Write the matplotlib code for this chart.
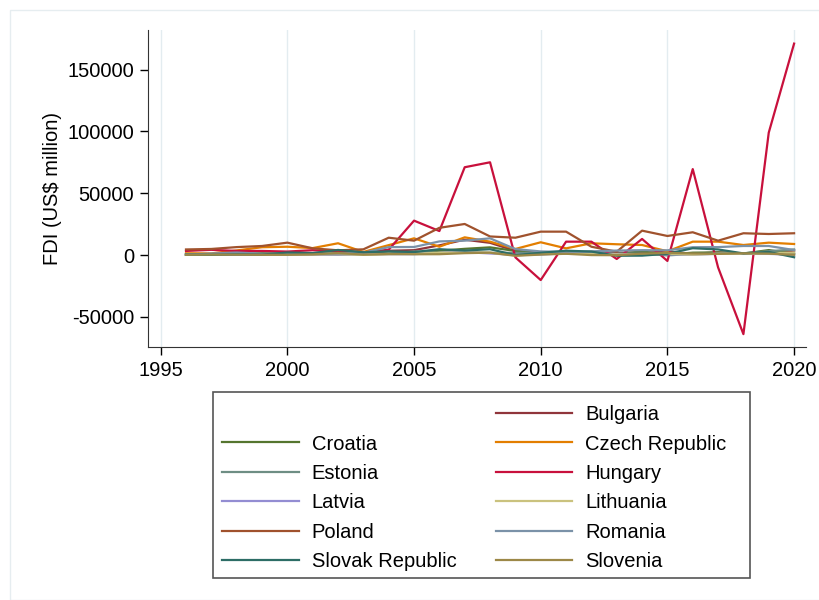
import matplotlib
matplotlib.use('Agg')
import matplotlib.pyplot as plt
from matplotlib.lines import Line2D
from matplotlib.patches import Rectangle


# years covered by the series
years = list(range(1996, 2021))

# FDI net inflows, US$ million
bulgaria = [109, 505, 537, 819, 1002, 813, 905, 2097, 3443, 3920, 7805, 12389, 9855,
            3385, 1525, 1827, 1467, 1888, 1777, 2747, 1070, 2124, 1350, 1940, 3500]
croatia = [500, 530, 930, 1460, 1090, 1340, 1100, 2100, 1200, 1800, 3470, 5000, 6200,
           3300, 1150, 1200, 1500, 950, 2900, 230, 1900, 2100, 1200, 4000, 1000]
czech = [1400, 1300, 3700, 6300, 6700, 5600, 9500, 2500, 8000, 13500, 6700, 14300, 10800,
         4900, 10300, 5400, 9500, 8700, 8100, 3000, 10800, 10800, 8100, 10000, 8900]
estonia = [150, 270, 580, 310, 390, 540, 280, 920, 1000, 2900, 1800, 2700, 1700,
           1800, 1700, 1000, 1500, 950, 1000, -300, 900, 1100, 1400, 3100, 4500]
hungary = [3300, 4200, 3300, 3300, 2800, 3900, 3000, 2100, 4300, 27800, 19400, 71000, 75000,
           -1900, -20250, 10800, 10800, -3200, 13000, -4800, 69500, -10000, -64000, 99000, 171000]
latvia = [380, 520, 360, 350, 410, 160, 390, 330, 640, 710, 1660, 2320, 1260,
          94, 380, 1460, 1100, 900, 800, 700, 230, 1000, 900, 900, 300]
lithuania = [150, 350, 920, 490, 380, 450, 710, 160, 620, 1000, 1800, 2000, 1900,
             -300, 800, 1450, 700, 500, 100, 1000, 300, 1000, 1100, 1400, 2000]
poland = [4500, 4900, 6400, 7300, 10000, 5400, 3800, 4600, 14000, 11600, 22000, 25100, 15000,
          14000, 18900, 18900, 6700, 2700, 19700, 15400, 18400, 11600, 17600, 17000, 17600]
romania = [260, 1200, 2030, 1040, 1040, 1160, 1140, 1840, 6400, 6500, 11000, 11600, 13500,
           4800, 2900, 2500, 3000, 3600, 3900, 3800, 6300, 6400, 7300, 7300, 4000]
slovakia = [350, 170, 560, 350, 2050, 1600, 4100, 2200, 3000, 2400, 4700, 3600, 4700,
            -50, 1800, 3500, 2800, -600, -500, 1000, 5500, 4500, 1300, 2500, -1800]
slovenia = [190, 340, 250, 180, 140, 500, 1600, 300, 830, 600, 650, 1500, 1900,
            -650, 360, 1000, -60, -150, 1050, 1700, 1250, 900, 1400, 1100, 200]

countries = ['Bulgaria', 'Croatia', 'Czech Republic', 'Estonia', 'Hungary', 'Latvia',
             'Lithuania', 'Poland', 'Romania', 'Slovak Republic', 'Slovenia']
series = [bulgaria, croatia, czech, estonia, hungary, latvia,
          lithuania, poland, romania, slovakia, slovenia]

# stata s2color style colours, one per country
colors = ['#90353B', '#55752F', '#E37E00', '#6E8E84', '#C8103C', '#938DD2',
          '#CAC27E', '#A0522D', '#7B92A8', '#2D6D66', '#9C8847']

x_ticks = [1995, 2000, 2005, 2010, 2015, 2020]
y_ticks = [-50000, 0, 50000, 100000, 150000]

W, H = 819, 600


def graph():
    plt.rcParams['font.family'] = ['Liberation Sans', 'DejaVu Sans']
    fs = 14.5
    fig = plt.figure(figsize=(W / 100, H / 100), dpi=100)
    ax = fig.add_axes([148 / W, 1 - 347 / H, (806 - 148) / W, (347 - 30) / H])

    # light outer frame like the stata graph region
    fig.patches.append(Rectangle((10 / W, 0), 1, 1 - 10 / H, transform=fig.transFigure,
                                 fill=False, edgecolor='#E6EDF0', linewidth=1))

    lines = {}
    for name, vals, col in zip(countries, series, colors):
        lines[name], = ax.plot(years, vals, color=col, linewidth=1.6, label=name)

    ax.set_xlim(1994.5, 2020.47)
    ax.set_ylim(-74400, 182000)
    ax.set_xticks(x_ticks)
    ax.set_yticks(y_ticks)
    ax.set_yticklabels([str(v) for v in y_ticks])
    ax.tick_params(labelsize=fs, length=6, width=1, direction='out', pad=4)
    ax.xaxis.grid(True, color='#E3ECF0', linewidth=1)
    ax.set_axisbelow(True)
    for side in ['top', 'right']:
        ax.spines[side].set_visible(False)
    ax.spines['left'].set_color('#333333')
    ax.spines['bottom'].set_color('#333333')
    ax.set_ylabel('FDI (US$ million)', fontsize=fs, labelpad=4)

    # legend box drawn by hand so its size matches the original
    fig.patches.append(Rectangle((213 / W, 1 - 578 / H), (750 - 213) / W, (578 - 392) / H,
                                 transform=fig.transFigure, fill=False,
                                 edgecolor='#555555', linewidth=1.2))

    # legend: first slot left empty, then two columns
    blank = Line2D([], [], color='none', label=' ')
    col1 = [blank] + [lines[n] for n in ['Croatia', 'Estonia', 'Latvia', 'Poland', 'Slovak Republic']]
    col2 = [lines[n] for n in ['Bulgaria', 'Czech Republic', 'Hungary', 'Lithuania', 'Romania', 'Slovenia']]
    handles = col1 + col2
    fig.legend(handles=handles, labels=[h.get_label() for h in handles], ncol=2,
               loc='upper left', bbox_to_anchor=(213 / W, 1 - 396 / H),
               fontsize=fs, handlelength=3.8, handletextpad=0.65, columnspacing=1.95,
               labelspacing=0.52, borderpad=0.45, frameon=False, borderaxespad=0)

    fig.savefig('out.png', dpi=100)


if __name__ == "__main__":
    graph()
